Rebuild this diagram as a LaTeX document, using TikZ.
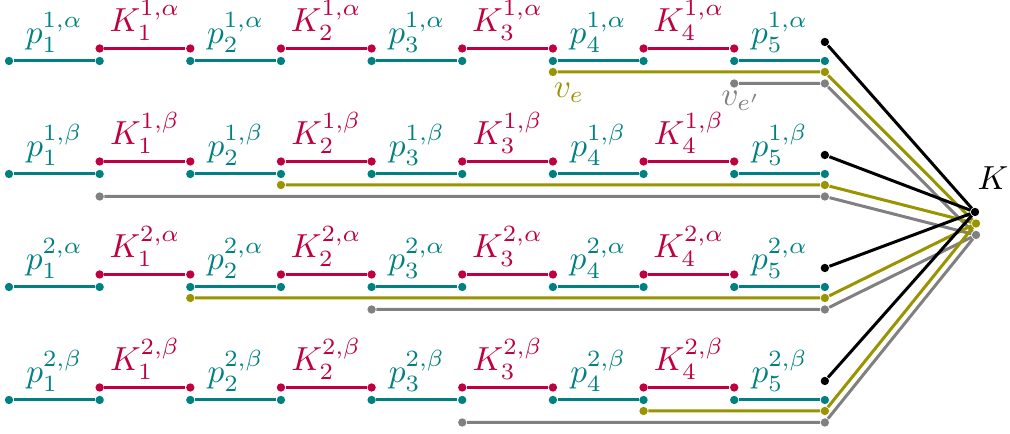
\documentclass[tikz,border=0pt]{standalone}
\definecolor{pcol}{rgb}{0,0.5,0.5}
\definecolor{kcol}{rgb}{0.75,0,0.25}
\definecolor{ycol}{rgb}{0.6,0.58,0}
\definecolor{gcol}{rgb}{0.5,0.5,0.5}
\begin{document}
\begin{tikzpicture}[x=0.3pt,y=-0.3pt,
  dot/.style={circle,fill,inner sep=0pt,minimum size=2.5pt},
  seg/.style={line width=0.9pt},
  lab/.style={above,inner sep=2pt}]
\useasboundingbox (0,0) rectangle (1010,434);
% target points at K
\node[dot,black] (Kb) at (975,212) {};
\node[dot,ycol] (Ky) at (976,223.5) {};
\node[dot,gcol] (Kg) at (976,235) {};
\node (Klab) at (993,178) {$K$};
\foreach \r/\yy/\supx/\ys/\gs in {0/61/{1,\alpha}/6/8, 1/174/{1,\beta}/3/1, 2/287/{2,\alpha}/2/4, 3/400/{2,\beta}/7/5}{
  % p segments
  \foreach \j in {1,...,5}{
    \pgfmathtruncatemacro\a{2*\j-2}
    \pgfmathtruncatemacro\b{2*\j-1}
    \node[dot,pcol] (pa\r\j) at ({9+90.65*\a},\yy) {};
    \node[dot,pcol] (pb\r\j) at ({9+90.65*\b},\yy) {};
    \draw[seg,pcol] (pa\r\j) -- node[lab,text=pcol] {$p_{\j}^{\supx}$} (pb\r\j);
  }
  % K segments
  \foreach \j in {1,...,4}{
    \pgfmathtruncatemacro\a{2*\j-1}
    \pgfmathtruncatemacro\b{2*\j}
    \node[dot,kcol] (ka\r\j) at ({9+90.65*\a},{\yy-12.5}) {};
    \node[dot,kcol] (kb\r\j) at ({9+90.65*\b},{\yy-12.5}) {};
    \draw[seg,kcol] (ka\r\j) -- node[lab,text=kcol] {$K_{\j}^{\supx}$} (kb\r\j);
  }
  % black
  \node[dot,black] (bk\r) at ({9+90.65*9},{\yy-19}) {};
  \draw[seg,black] (bk\r) -- (Kb);
  % yellow
  \node[dot,ycol] (ya\r) at ({9+90.65*\ys},{\yy+11}) {};
  \node[dot,ycol] (yb\r) at ({9+90.65*9},{\yy+11}) {};
  \draw[seg,ycol] (ya\r) -- (yb\r) -- (Ky);
  % gray
  \node[dot,gcol] (ga\r) at ({9+90.65*\gs},{\yy+22.5}) {};
  \node[dot,gcol] (gb\r) at ({9+90.65*9},{\yy+22.5}) {};
  \draw[seg,gcol] (ga\r) -- (gb\r) -- (Kg);
}
\node[text=ycol] (ve) at (569,93) {$v_e$};
\node[text=gcol] (vep) at (741,101) {$v_{e'}$};
\end{tikzpicture}
\end{document}
